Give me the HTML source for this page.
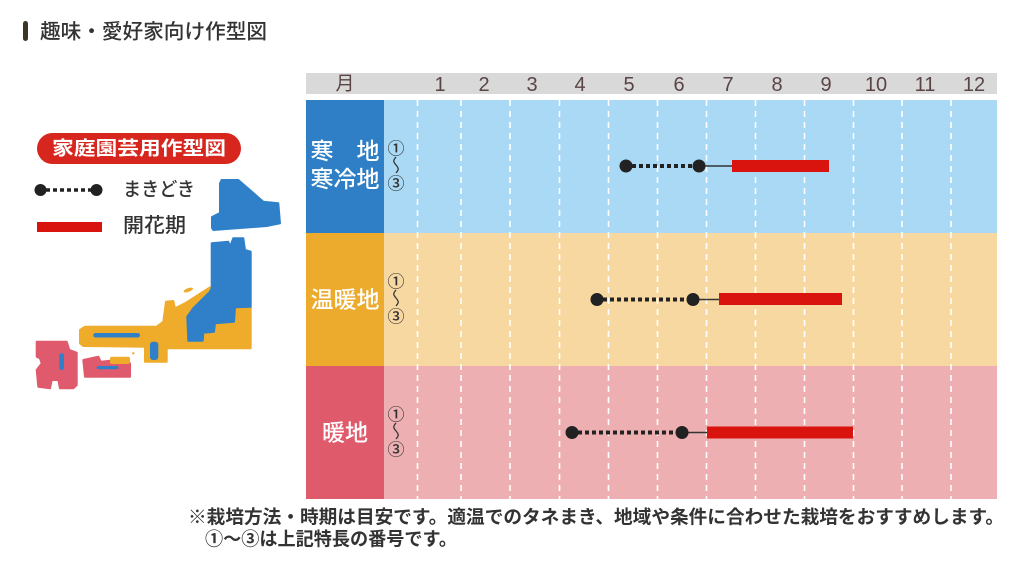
<!DOCTYPE html>
<html><head><meta charset="utf-8"><style>
html,body{margin:0;padding:0;background:#fff;}
svg{display:block;}
text{font-family:"Liberation Sans","Noto Sans CJK JP",sans-serif;}
</style></head><body>
<svg width="1028" height="565" viewBox="0 0 1028 565" xmlns="http://www.w3.org/2000/svg">
<rect width="1028" height="565" fill="#fff"/>
<!-- Title -->
<rect x="23" y="21" width="5" height="20" rx="2.5" fill="#3d3626"/>
<text x="40" y="32" dominant-baseline="central" font-size="20.7" font-weight="500" fill="#333" textLength="227" lengthAdjust="spacingAndGlyphs">趣味・愛好家向け作型図</text>

<!-- Legend -->
<rect x="37" y="133" width="204" height="31" rx="15.5" fill="#d7261e"/>
<text x="139" y="149" dominant-baseline="central" text-anchor="middle" font-size="19" font-weight="bold" fill="#fff" textLength="174" lengthAdjust="spacingAndGlyphs">家庭園芸用作型図</text>
<line x1="46" y1="190" x2="91" y2="190" stroke="#222" stroke-width="3.5" stroke-dasharray="4 3"/>
<circle cx="40.5" cy="190" r="6" fill="#222"/>
<circle cx="96.5" cy="190" r="6" fill="#222"/>
<text x="123" y="190" dominant-baseline="central" font-size="19" font-weight="500" fill="#333" textLength="72" lengthAdjust="spacingAndGlyphs">まきどき</text>
<rect x="37" y="222" width="65" height="10" fill="#d9140e"/>
<text x="123" y="226" dominant-baseline="central" font-size="20" font-weight="500" fill="#333" textLength="63" lengthAdjust="spacingAndGlyphs">開花期</text>

<!-- Map -->
<g stroke-linejoin="round" stroke-width="2">
<polygon fill="#2f80c9" stroke="#2f80c9" points="221.7,180 238.3,180 263.3,201.7 278.3,203.3 280,223.3 266.7,226 213.3,230 212,228 212,217 220,213 220,183.3"/>
<polygon fill="#efab2a" stroke="#efab2a" points="80,330 85,326.7 156.7,326.7 163.3,321.7 166,301.7 173.3,301 175,308.3 185,303.3 210,287.3 215,290 233.3,306.7 250.7,306.7 250.7,348.3 166.7,348.3 166.7,361.7 145,361.7 145,346.7 83.3,346 80,343.3"/>
<polygon fill="#2f80c9" stroke="#2f80c9" points="211.7,243.3 228.3,241.7 230,246.7 233.3,238.3 243.3,238.3 245,250 250.7,251.7 250.7,306.7 235,307.3 234,321.7 215,323.3 214,331.7 203.3,332.7 202.7,340.7 188.3,340.7 187.3,316.7 193.3,308.3 210,291.7 211.7,288.3"/>
<rect x="93.3" y="333" width="46.7" height="4.5" rx="2.2" fill="#2f80c9" stroke="none"/>
<rect x="150" y="341.7" width="8.3" height="18.3" rx="3" fill="#2f80c9" stroke="none"/>
<ellipse cx="188.3" cy="290" rx="5" ry="1.8" fill="#efab2a" transform="rotate(-20 188.3 290)"/>
<circle cx="133.3" cy="353.3" r="1.2" fill="#efab2a"/>
<polygon fill="#e05a6d" stroke="#e05a6d" points="83.3,360 98.3,356.7 100.7,361.7 110,360.7 110,363.3 130,363.3 130,376.7 85,376.7"/>
<rect x="110" y="356.7" width="20" height="7.3" rx="2" fill="#efab2a" stroke="none"/>
<rect x="96.7" y="366" width="21.6" height="3.3" rx="1.6" fill="#2f80c9" stroke="none"/>
<polygon fill="#e05a6d" stroke="#e05a6d" points="36.7,341.7 66.7,341.7 69.3,350 76.7,352.7 76.7,385 73.3,388.3 60,388.3 58.3,380 51.7,380 50,388.3 38.3,386.7 36.7,370 41.7,363.3 40,358.3 36.7,356.7"/>
<rect x="59.3" y="353.3" width="4.7" height="16.7" rx="2.3" fill="#2f80c9" stroke="none"/>
</g>

<!-- Chart header -->
<rect x="306" y="73" width="691" height="21" fill="#d9d9d9"/>
<g font-size="20" fill="#5a4444" text-anchor="middle">
<text x="345" y="84" dominant-baseline="central" font-size="19">月</text>
<text x="440" y="91">1</text>
<text x="484" y="91">2</text>
<text x="532" y="91">3</text>
<text x="580" y="91">4</text>
<text x="629" y="91">5</text>
<text x="679" y="91">6</text>
<text x="728" y="91">7</text>
<text x="777" y="91">8</text>
<text x="826" y="91">9</text>
<text x="876" y="91">10</text>
<text x="925" y="91">11</text>
<text x="974" y="91">12</text>
</g>

<!-- Rows -->
<rect x="306" y="100" width="78" height="133" fill="#2f7fc7"/>
<rect x="384" y="100" width="613" height="133" fill="#a9d9f4"/>
<rect x="306" y="233" width="78" height="133" fill="#ecab2c"/>
<rect x="384" y="233" width="613" height="133" fill="#f8d8a1"/>
<rect x="306" y="366" width="78" height="133" fill="#df5a6b"/>
<rect x="384" y="366" width="613" height="133" fill="#edafb1"/>

<!-- Grid dashed lines -->
<g stroke="#fff" stroke-width="1.6" stroke-dasharray="6 5">
<line x1="417.5" y1="100" x2="417.5" y2="499"/>
<line x1="461" y1="100" x2="461" y2="499"/>
<line x1="510" y1="100" x2="510" y2="499"/>
<line x1="559.5" y1="100" x2="559.5" y2="499"/>
<line x1="608.5" y1="100" x2="608.5" y2="499"/>
<line x1="657.5" y1="100" x2="657.5" y2="499"/>
<line x1="706.5" y1="100" x2="706.5" y2="499"/>
<line x1="755.5" y1="100" x2="755.5" y2="499"/>
<line x1="804.5" y1="100" x2="804.5" y2="499"/>
<line x1="853.5" y1="100" x2="853.5" y2="499"/>
<line x1="902" y1="100" x2="902" y2="499"/>
<line x1="951" y1="100" x2="951" y2="499"/>
</g>

<!-- Row labels -->
<g fill="#fff" font-size="23" font-weight="500" text-anchor="middle">
<text x="345" y="151" dominant-baseline="central" textLength="69" lengthAdjust="spacing">寒　地</text>
<text x="345" y="179" dominant-baseline="central" textLength="69" lengthAdjust="spacingAndGlyphs">寒冷地</text>
<text x="345" y="299.5" dominant-baseline="central" textLength="69" lengthAdjust="spacingAndGlyphs">温暖地</text>
<text x="345" y="432.5" dominant-baseline="central">暖地</text>
</g>

<!-- ①～③ -->
<g fill="#333" font-size="17" font-weight="500" text-anchor="middle">
<text x="396" y="149" dominant-baseline="central">①</text>
<text x="396" y="184" dominant-baseline="central">③</text>
<text x="396" y="282" dominant-baseline="central">①</text>
<text x="396" y="317" dominant-baseline="central">③</text>
<text x="396" y="415" dominant-baseline="central">①</text>
<text x="396" y="450" dominant-baseline="central">③</text>
</g>
<g fill="none" stroke="#333" stroke-width="1.3">
<path d="M396,157 c-3,3.5 -3,4.5 0,8 c3,3.5 3,4.5 0,8"/>
<path d="M396,290 c-3,3.5 -3,4.5 0,8 c3,3.5 3,4.5 0,8"/>
<path d="M396,423 c-3,3.5 -3,4.5 0,8 c3,3.5 3,4.5 0,8"/>
</g>

<!-- Series row 1 -->
<line x1="632" y1="166" x2="693" y2="166" stroke="#222" stroke-width="4" stroke-dasharray="4 3"/>
<line x1="699" y1="166" x2="732" y2="166" stroke="#333" stroke-width="1.5"/>
<circle cx="626" cy="166" r="6.5" fill="#222"/>
<circle cx="699" cy="166" r="6.5" fill="#222"/>
<rect x="732" y="160" width="97" height="12" fill="#d9140e"/>

<!-- Series row 2 -->
<line x1="603" y1="299.5" x2="687" y2="299.5" stroke="#222" stroke-width="4" stroke-dasharray="4 3"/>
<line x1="693" y1="299.5" x2="719" y2="299.5" stroke="#333" stroke-width="1.5"/>
<circle cx="597" cy="299.5" r="6.5" fill="#222"/>
<circle cx="693" cy="299.5" r="6.5" fill="#222"/>
<rect x="719" y="293" width="123" height="12" fill="#d9140e"/>

<!-- Series row 3 -->
<line x1="578" y1="432.5" x2="676" y2="432.5" stroke="#222" stroke-width="4" stroke-dasharray="4 3"/>
<line x1="682" y1="432.5" x2="707" y2="432.5" stroke="#333" stroke-width="1.5"/>
<circle cx="572" cy="432.5" r="6.5" fill="#222"/>
<circle cx="682" cy="432.5" r="6.5" fill="#222"/>
<rect x="707" y="426.5" width="146" height="12" fill="#d9140e"/>

<!-- Footer -->
<text x="188" y="517" dominant-baseline="central" font-size="18.5" font-weight="bold" fill="#333" textLength="816" lengthAdjust="spacingAndGlyphs">※栽培方法・時期は目安です。適温でのタネまき、地域や条件に合わせた栽培をおすすめします。</text>
<text x="205" y="539" dominant-baseline="central" font-size="18.5" font-weight="bold" fill="#333" textLength="252" lengthAdjust="spacingAndGlyphs">①〜③は上記特長の番号です。</text>
</svg>
</body></html>
